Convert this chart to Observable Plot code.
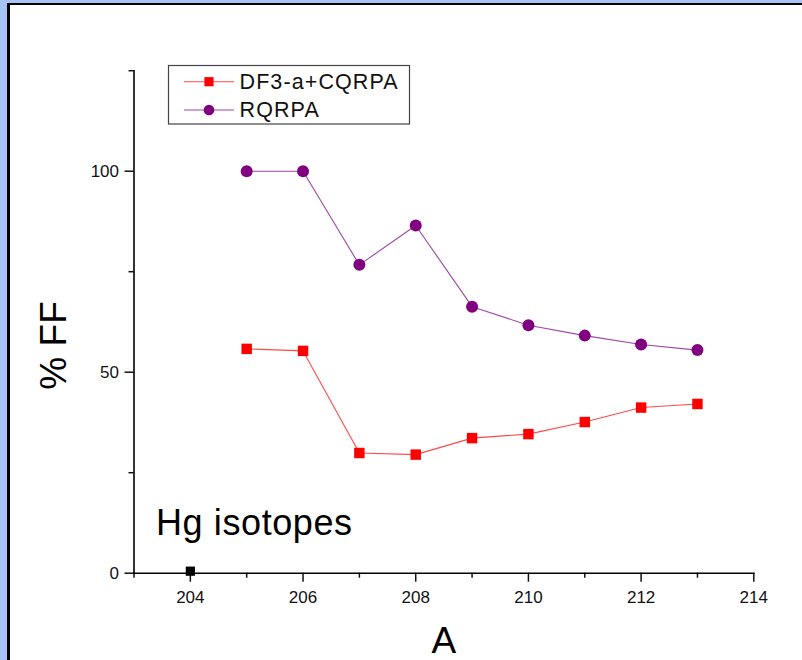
<!DOCTYPE html>
<html>
<head>
<meta charset="utf-8">
<script src="https://cdn.jsdelivr.net/npm/d3@7"></script>
<script src="https://cdn.jsdelivr.net/npm/@observablehq/plot@0.6"></script>
<style>
  html, body { margin: 0; padding: 0; }
  body { width: 802px; height: 660px; overflow: hidden; background: #a7c4f6; position: relative; font-family: "Liberation Sans", Arial, sans-serif; }
  #panel { position: absolute; left: 7px; top: 3px; width: 900px; height: 760px; background: #fff; border-left: 3px solid #000; border-top: 2px solid #000; }
  #chart { position: absolute; left: 0; top: 0; }
  #legend { position: absolute; left: 0; top: 0; }
</style>
</head>
<body>
<div id="panel"></div>
<div id="chart"></div>
<div id="legend"></div>
<script>
// ---- data ----
const massNumbers = [205, 206, 207, 208, 209, 210, 211, 212, 213];
const cqrpaFF = [55.8, 55.3, 29.9, 29.5, 33.6, 34.6, 37.6, 41.2, 42.1];
const rqrpaFF = [100, 100, 76.7, 86.5, 66.3, 61.7, 59.1, 56.9, 55.5];
const expA = [204];
const expFF = [0.5];
const seriesNames = ["DF3-a+CQRPA", "RQRPA"];
const seriesColors = ["#ff0000", "#800080"];
const lineColors = ["#ff4a4a", "#9c46a8"];
const seriesSymbols = ["square", "circle"];
const xMajor = [204, 206, 208, 210, 212, 214];
const xMinor = [203, 205, 207, 209, 211, 213];
const yMajor = [0, 50, 100];
const yMinor = [25, 75, 125];
const xLabel = "A";
const yLabel = "% FF";
const note = "Hg isotopes";

const cqrpa = massNumbers.map((a, i) => ({A: a, FF: cqrpaFF[i]}));
const rqrpa = massNumbers.map((a, i) => ({A: a, FF: rqrpaFF[i]}));
const exp = expA.map((a, i) => ({A: a, FF: expFF[i]}));

const font = "'Liberation Sans', Arial, sans-serif";

const chart = Plot.plot({
  width: 802,
  height: 660,
  marginLeft: 133.5,
  marginRight: 48.7,
  marginTop: 70.2,
  marginBottom: 87.3,
  x: {domain: [203, 214], label: null},
  y: {domain: [0, 125], label: null},
  style: {background: "transparent", fontFamily: font, fontSize: "17px", color: "#111", overflow: "visible"},
  marks: [
    Plot.axisX(xMinor, {tickSize: 5, tickFormat: () => "", label: null, strokeWidth: 1.5}),
    Plot.axisX(xMajor, {tickSize: 9, tickPadding: 9, label: null, strokeWidth: 1.5, fontSize: 17}),
    Plot.axisY(yMinor, {tickSize: 5, tickFormat: () => "", label: null, strokeWidth: 1.5}),
    Plot.axisY(yMajor, {tickSize: 9, tickPadding: 6, label: null, strokeWidth: 1.5, fontSize: 17}),
    Plot.frame({anchor: "left", stroke: "#000", strokeWidth: 1.6}),
    Plot.frame({anchor: "bottom", stroke: "#000", strokeWidth: 1.6}),
    Plot.line(rqrpa, {x: "A", y: "FF", stroke: lineColors[1], strokeWidth: 1.1}),
    Plot.dot(rqrpa, {x: "A", y: "FF", symbol: seriesSymbols[1], r: 6, fill: seriesColors[1], stroke: "none"}),
    Plot.line(cqrpa, {x: "A", y: "FF", stroke: lineColors[0], strokeWidth: 1.1}),
    Plot.dot(cqrpa, {x: "A", y: "FF", symbol: seriesSymbols[0], r: 5.9, fill: seriesColors[0], stroke: "none"}),
    Plot.dot(exp, {x: "A", y: "FF", symbol: "square", r: 5.2, fill: "#000", stroke: "none"}),
    Plot.text([yLabel], {frameAnchor: "left", text: d => d, rotate: -90, lineAnchor: "bottom", textAnchor: "middle", dx: -68.5, dy: 23.5, fontSize: 37, fill: "#000"}),
    Plot.text([xLabel], {frameAnchor: "bottom", text: d => d, lineAnchor: "bottom", textAnchor: "middle", dy: 80, fontSize: 37, fill: "#000"}),
    Plot.text([note], {frameAnchor: "bottom-left", text: d => d, lineAnchor: "bottom", textAnchor: "start", dx: 22, dy: -38.5, fontSize: 36, fill: "#000"})
  ]
});
// enlarge the tick labels to match the reference
d3.select(chart).selectAll('g[aria-label$="tick label"]')
  .attr("font-size", 17).style("font-size", "17px");
d3.select(chart).selectAll('g[aria-label="text"]').filter((d, i) => i === 2)
  .style("letter-spacing", "0.6px");
document.getElementById("chart").appendChild(chart);

// ---- legend ----
const lg = d3.select("#legend").append("svg")
  .attr("width", 802).attr("height", 200)
  .style("overflow", "visible");
lg.append("rect").attr("x", 168.5).attr("y", 65.5).attr("width", 241).attr("height", 58.5)
  .attr("fill", "none").attr("stroke", "#444").attr("stroke-width", 1.2);
const rowY = [81.7, 110];
seriesNames.forEach((name, i) => {
  const g = lg.append("g");
  g.append("line").attr("x1", 184).attr("x2", 234).attr("y1", rowY[i]).attr("y2", rowY[i])
    .attr("stroke", lineColors[i]).attr("stroke-width", 1.1);
  if (seriesSymbols[i] === "square") {
    g.append("rect").attr("x", 209 - 4.6).attr("y", rowY[i] - 4.6).attr("width", 9.2).attr("height", 9.2).attr("fill", seriesColors[i]);
  } else {
    g.append("circle").attr("cx", 209).attr("cy", rowY[i]).attr("r", 5.3).attr("fill", seriesColors[i]);
  }
  g.append("text").attr("x", 239.5).attr("y", rowY[i] + 7.3)
    .attr("font-family", font).attr("font-size", 21.5).attr("fill", "#111")
    .style("letter-spacing", "1.1px")
    .text(name);
});
</script>
</body>
</html>
